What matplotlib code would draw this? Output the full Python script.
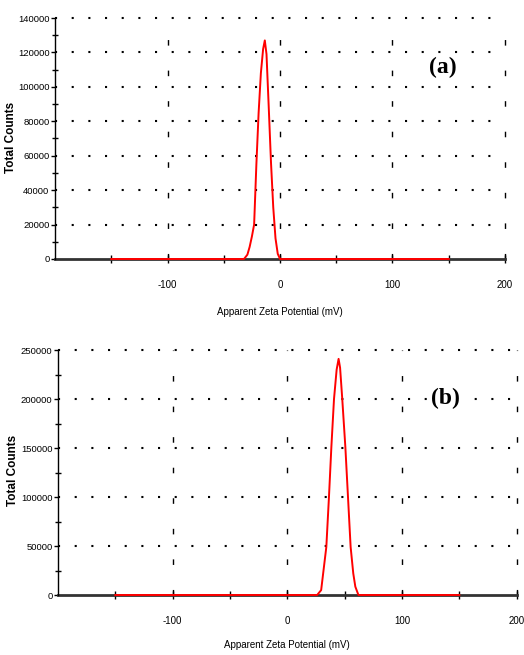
import matplotlib
matplotlib.use("Agg")
import matplotlib.pyplot as plt
import numpy as np

# panel (a) zeta distribution
zeta_a = [-150, -32, -29, -27, -25, -23, -21, -19, -17, -15, -13.5, -12, -10, -8, -6, -4, -2, 0, 150]
counts_a = [0, 0, 2500, 7000, 13000, 20000, 55000, 85000, 108000, 122000, 127000, 119000, 88000, 56000, 30000, 12000, 3000, 0, 0]

# panel (b) zeta distribution
zeta_b = [-150, 26, 29.5, 34, 36.3, 38.4, 40.7, 43, 44.7, 46, 47.9, 50.6, 52.9, 55.2, 57.5, 59.3, 62, 150]
counts_b = [0, 0, 5000, 49000, 100000, 151000, 200000, 230000, 241000, 232000, 200000, 151000, 100000, 49000, 22000, 8500, 0, 0]

x_ticks = [-150, -100, -50, 0, 50, 100, 150, 200]
x_labels = ["", "-100", "", "0", "", "100", "", "200"]

sans = ["Liberation Sans", "DejaVu Sans"]
serif = ["Liberation Serif", "DejaVu Serif"]

W, H = 524, 655
fig = plt.figure(figsize=(5.24, 6.55), dpi=100)
ax_a = fig.add_axes([0.105, 0.6046, 0.8587, 0.3679])
ax_b = fig.add_axes([0.1107, 0.0916, 0.8753, 0.374])


def style_axis(ax, x, y, ymax, ystep, label, label_xy):
    ax.set_xlim(-200, 200)
    ax.set_ylim(0, ymax)
    for s in ["top", "right", "bottom"]:
        ax.spines[s].set_visible(False)
    ax.spines["left"].set_linewidth(1.0)
    ax.spines["left"].set_color("black")

    # dotted horizontal grid, sparse dashed vertical grid
    for yv in np.arange(ystep, ymax + 1, ystep):
        ax.axhline(yv, color="black", lw=1.5, ls=(0, (1, 7)), zorder=1, clip_on=False)
    for xv in [-100, 0, 100, 200]:
        ax.axvline(xv, color="black", lw=1.0, ls=(0, (4, 18)), zorder=1, clip_on=False)

    # zero axis line
    ax.axhline(0, color="#333333", lw=2.0, zorder=2, clip_on=False)
    ax.plot(x, y, color="red", lw=1.4, zorder=3, clip_on=False)

    ax.set_xticks(x_ticks)
    ax.set_xticklabels(x_labels, family=sans, fontsize=7)
    ax.tick_params(axis="x", direction="inout", length=6, width=1, pad=12, color="black")
    yt = np.arange(0, ymax + 1, ystep)
    ax.set_yticks(yt)
    ax.set_yticklabels([str(int(v)) for v in yt], family=sans, fontsize=6.8)
    ax.set_yticks(np.arange(ystep / 2, ymax, ystep), minor=True)
    ax.tick_params(axis="y", which="major", direction="out", length=3, width=1, pad=1)
    ax.tick_params(axis="y", which="minor", direction="inout", length=4, width=1)

    ax.text(label_xy[0], label_xy[1], label, family=serif, fontsize=17,
            fontweight="bold", ha="center", va="center", zorder=4,
            bbox=dict(facecolor="white", edgecolor="none", pad=2))


style_axis(ax_a, zeta_a, counts_a, 140000, 20000, "(a)", (145, 111000))
style_axis(ax_b, zeta_b, counts_b, 250000, 50000, "(b)", (138, 201000))

# axis titles placed in figure pixels
for (xl, yl), (xy, yy) in [((280, 312), (11, 137)), ((287, 645), (13, 470))]:
    fig.text(xl / W, 1 - yl / H, "Apparent Zeta Potential (mV)", family=sans,
             fontsize=7, ha="center", va="center")
    fig.text(xy / W, 1 - yy / H, "Total Counts", family=sans, fontsize=8.5,
             fontweight="bold", rotation=90, ha="center", va="center")

fig.savefig("out.png", dpi=100)
